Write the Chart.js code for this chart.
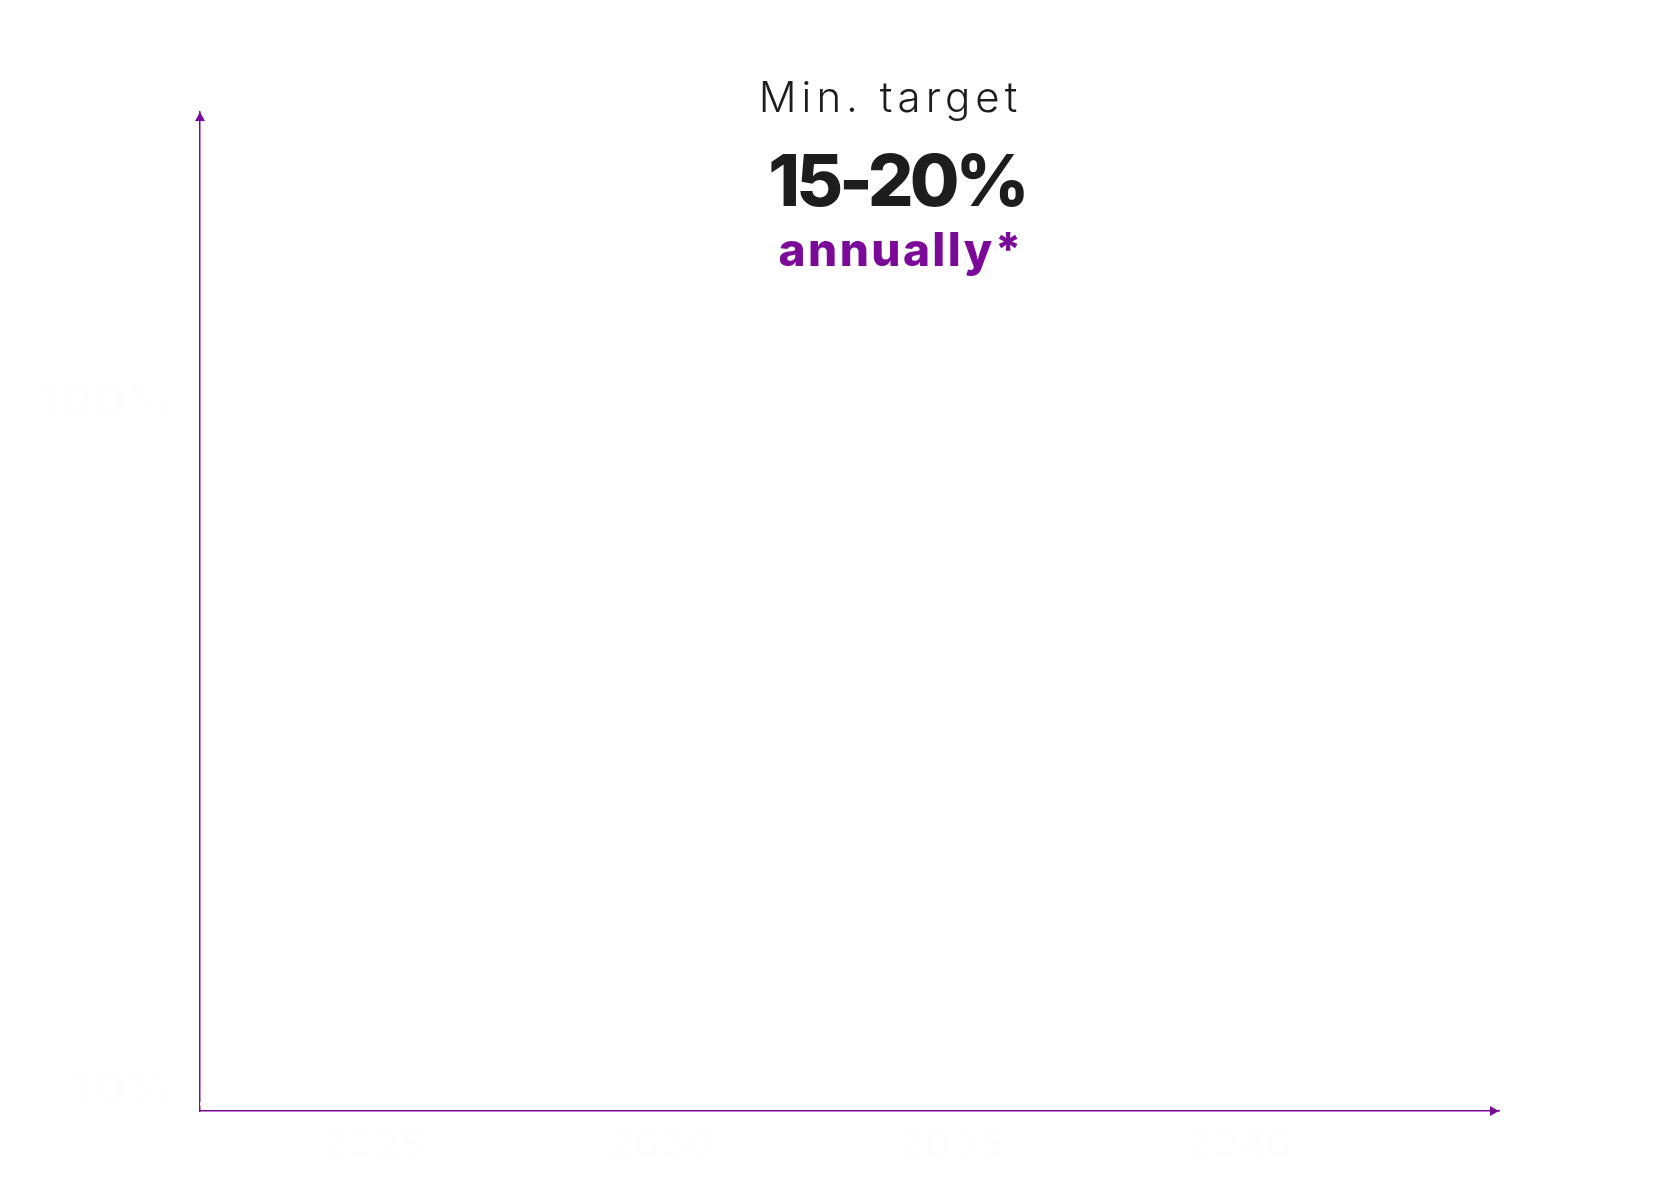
<!DOCTYPE html>
<html>
<head>
<meta charset="utf-8">
<script src="https://cdn.jsdelivr.net/npm/chart.js@4.4.1/dist/chart.umd.min.js"></script>
<style>
  html, body { margin: 0; padding: 0; background: #fff; overflow: hidden; }
  #wrap { width: 1673px; height: 1194px; position: relative; }
</style>
</head>
<body>
<div id="wrap"><canvas id="targetChart"></canvas></div>
<script>
// Годы на оси X
const years = [2025, 2030, 2035, 2040];
// Подписи оси Y
const yTicks = [10, 100];
// Бледная линия роста (почти не видна на картинке)
const growthYears = [2022, 2025, 2027, 2029];
const growthValues = [8, 45, 68, 100];
// Заголовок над графиком
const headline = ['Min. target', '15-20%', 'annually*'];

const purple = '#7c0a99';
const ghost = '#fefefe';

// Стрелки на концах осей
const axisArrows = {
  id: 'axisArrows',
  afterDraw(chart) {
    const { ctx, chartArea: a } = chart;
    ctx.save();
    ctx.fillStyle = purple;
    ctx.beginPath();
    ctx.moveTo(a.left, a.top);
    ctx.lineTo(a.left - 5, a.top + 9);
    ctx.lineTo(a.left + 5, a.top + 9);
    ctx.closePath();
    ctx.fill();
    ctx.beginPath();
    ctx.moveTo(a.right, a.bottom);
    ctx.lineTo(a.right - 9, a.bottom - 5);
    ctx.lineTo(a.right - 9, a.bottom + 5);
    ctx.closePath();
    ctx.fill();
    ctx.restore();
  }
};

// Три строки заголовка
const headlineText = {
  id: 'headlineText',
  afterDraw(chart) {
    const ctx = chart.ctx;
    const styles = [
      { font: '300 42px Inter', color: '#1d1d1d', x: 888, y: 112, sp: 5 },
      { font: '800 72px Inter', color: '#1d1d1d', x: 899, y: 206, sp: -4 },
      { font: '800 46px Inter', color: purple, x: 900, y: 266, sp: 2.4 }
    ];
    ctx.save();
    ctx.textAlign = 'left';
    ctx.textBaseline = 'alphabetic';
    headline.forEach((t, i) => {
      const s = styles[i];
      ctx.font = s.font;
      ctx.letterSpacing = s.sp + 'px';
      ctx.fillStyle = s.color;
      const w = ctx.measureText(t).width - s.sp;
      ctx.fillText(t, s.x - w / 2, s.y);
    });
    ctx.restore();
  }
};

const targetChart = new Chart(document.getElementById('targetChart'), {
  type: 'line',
  data: {
    datasets: [{
      data: growthYears.map((x, i) => ({ x: x, y: growthValues[i] })),
      borderColor: ghost,
      backgroundColor: 'transparent',
      borderWidth: 2,
      pointRadius: 0
    }]
  },
  options: {
    responsive: true,
    maintainAspectRatio: false,
    animation: false,
    layout: { padding: { top: 112, right: 174, left: 0, bottom: 0 } },
    plugins: {
      legend: { display: false },
      tooltip: { enabled: false }
    },
    scales: {
      x: {
        type: 'linear',
        min: 2022,
        max: 2044.5,
        grid: { display: false },
        border: { display: true, color: purple, width: 1.5 },
        afterBuildTicks: s => { s.ticks = years.map(v => ({ value: v })); },
        afterFit: s => { s.height = 83; },
        ticks: {
          color: ghost,
          font: { family: 'Inter', size: 40, weight: '800' },
          callback: v => String(v),
          maxRotation: 0
        }
      },
      y: {
        type: 'linear',
        min: 7.25,
        max: 138,
        grid: { display: false },
        border: { display: true, color: purple, width: 1.5 },
        afterBuildTicks: s => { s.ticks = yTicks.map(v => ({ value: v })); },
        afterFit: s => { s.width = 200; },
        ticks: {
          color: ghost,
          font: { family: 'Inter', size: 48, weight: '800' },
          callback: v => v + '%',
          padding: 16
        }
      }
    }
  },
  plugins: [axisArrows, headlineText]
});
</script>
</body>
</html>
